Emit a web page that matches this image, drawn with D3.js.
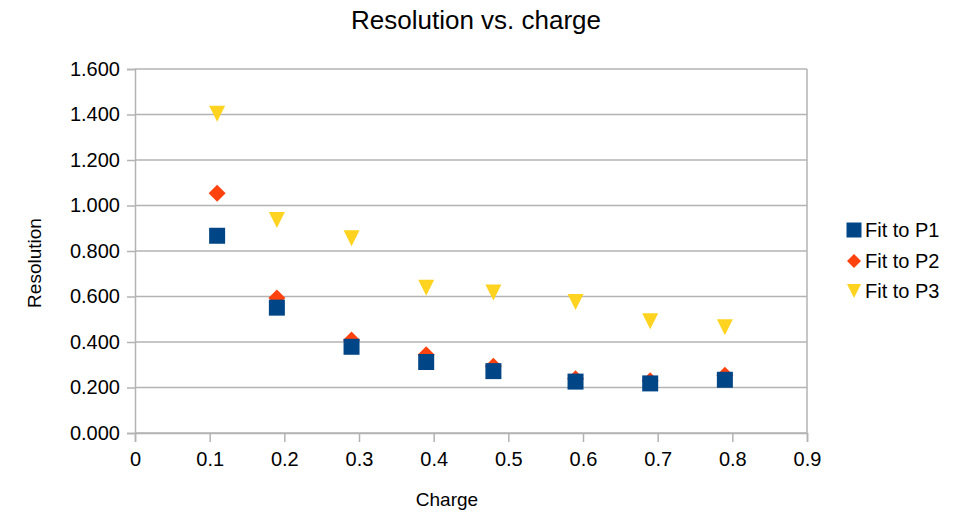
<!DOCTYPE html>
<html><head><meta charset="utf-8">
<script src="https://cdn.jsdelivr.net/npm/d3@7"></script>
<style>
html,body{margin:0;padding:0;background:#fff;}
svg{display:block;font-family:"Liberation Sans",Arial,sans-serif;}
</style></head>
<body>
<svg id="chart" width="958" height="514"></svg>
<script>
const charge = [0.11, 0.19, 0.29, 0.39, 0.48, 0.59, 0.69, 0.79];
const fitP1 = [0.867, 0.551, 0.379, 0.312, 0.272, 0.226, 0.218, 0.234];
const fitP2 = [1.054, 0.593, 0.409, 0.344, 0.293, 0.239, 0.230, 0.254];
const fitP3 = [1.403, 0.936, 0.856, 0.639, 0.618, 0.576, 0.491, 0.465];
const seriesNames = ["Fit to P1", "Fit to P2", "Fit to P3"];
const xTicks = [0, 0.1, 0.2, 0.3, 0.4, 0.5, 0.6, 0.7, 0.8, 0.9];
const yTicks = [0, 0.2, 0.4, 0.6, 0.8, 1.0, 1.2, 1.4, 1.6];

const colors = ["#004586", "#ff420e", "#ffd320"];
const shapes = ["square", "diamond", "triangle"];

const svg = d3.select("#chart");
const L = 135, R = 807, T = 69, B = 433;
const x = d3.scaleLinear().domain([0, 0.9]).range([L, R]);
const y = d3.scaleLinear().domain([0, 1.6]).range([B, T]);

function shapePath(type, s) {
  const h = s / 2;
  if (type === "square") return `M${-h},${-h}H${h}V${h}H${-h}Z`;
  if (type === "diamond") return `M0,${-h}L${h},0L0,${h}L${-h},0Z`;
  return `M${-h},${-h}L${h},${-h}L0,${h}Z`;
}

// gridlines
svg.append("g").selectAll("line").data(yTicks).join("line")
  .attr("x1", L).attr("x2", R)
  .attr("y1", d => y(d)).attr("y2", d => y(d))
  .attr("stroke", "#b3b3b3").attr("stroke-width", 1.5);
// right border
svg.append("line").attr("x1", R).attr("x2", R).attr("y1", T).attr("y2", B)
  .attr("stroke", "#b3b3b3").attr("stroke-width", 1.5);

// axes
const xAxis = d3.axisBottom(x).tickValues(xTicks).tickSize(9).tickPadding(10)
  .tickFormat(d => d === 0 ? "0" : d3.format(".1f")(d));
const gx = svg.append("g").attr("transform", `translate(0,${B})`).call(xAxis);
const yAxis = d3.axisLeft(y).tickValues(yTicks).tickSize(8).tickPadding(7)
  .tickFormat(d3.format(".3f"));
const gy = svg.append("g").attr("transform", `translate(${L},0)`).call(yAxis);
[gx, gy].forEach(g => {
  g.select(".domain").attr("stroke", "#b3b3b3").attr("stroke-width", 1.5);
  g.selectAll(".tick line").attr("stroke", "#b3b3b3").attr("stroke-width", 1.5);
  g.selectAll(".tick text").attr("fill", "#000").style("font-size", "20px")
    .style("font-family", "'Liberation Sans', Arial, sans-serif");
});

// series (drawn P3, P2, P1 so P1 sits on top)
const allSeries = [fitP1, fitP2, fitP3];
const sizes = [16, 17, 16];
[2, 1, 0].forEach(i => {
  svg.append("g").selectAll("path").data(charge.map((c, j) => [c, allSeries[i][j]])).join("path")
    .attr("d", shapePath(shapes[i], sizes[i]))
    .attr("transform", d => `translate(${x(d[0])},${y(d[1])})`)
    .attr("fill", colors[i]);
});

// title
svg.append("text").attr("x", 476).attr("y", 29).attr("text-anchor", "middle")
  .style("font-size", "26px").attr("fill", "#000").text("Resolution vs. charge");
// axis titles
svg.append("text").attr("x", 447).attr("y", 506).attr("text-anchor", "middle")
  .style("font-size", "19px").attr("fill", "#000").text("Charge");
svg.append("text").attr("transform", "translate(41,263) rotate(-90)")
  .attr("text-anchor", "middle").style("font-size", "19px").attr("fill", "#000").text("Resolution");

// legend
const legY = [230, 261, 291];
const legSizes = [15, 14, 14];
const leg = svg.append("g");
seriesNames.forEach((n, i) => {
  leg.append("path").attr("d", shapePath(shapes[i], legSizes[i]))
    .attr("transform", `translate(854,${legY[i]})`).attr("fill", colors[i]);
  leg.append("text").attr("x", 865).attr("y", legY[i] + 7)
    .style("font-size", "20px").attr("fill", "#000").text(n);
});
</script>
</body></html>
